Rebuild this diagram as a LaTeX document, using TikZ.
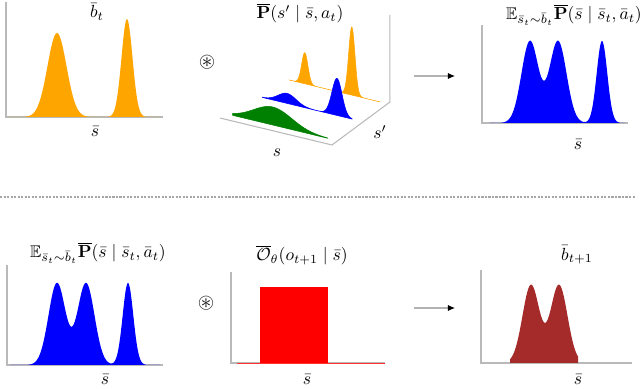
\documentclass[tikz,border=0pt]{standalone}
\usepackage{amsmath,amssymb}
\usetikzlibrary{arrows.meta}
\definecolor{mplorange}{HTML}{FFA500}
\definecolor{mplgreen}{HTML}{008000}
\definecolor{mplbrown}{HTML}{A52A2A}

\begin{document}
\begin{tikzpicture}[
  x=0.02cm, y=0.02cm,
  declare function={gauss(\u,\m,\s)=exp(-0.5*min(((\u-\m)/\s)^2,40));},
  axis/.style={draw=gray!55, line width=0.6pt},
  slice/.style={line width=0.3pt},
  ttl/.style={font=\fontsize{9.6}{11}\selectfont, inner sep=1pt},
  xlbl/.style={font=\fontsize{9.6}{11}\selectfont, inner sep=1pt},
  conv/.style={font=\large, inner sep=0pt},
  arr/.style={draw=gray!60, line width=0.6pt, -{Latex[length=4pt, width=3.5pt, color=black]}},
  sep/.style={draw=gray!70, line width=0.8pt, dash pattern=on 1.2pt off 0.8pt},
]
\useasboundingbox (0,0) rectangle (640,389);

% Top row: current belief
\draw[axis] (6,387) -- (6,272) -- (163,272);
\fill[mplorange] (8,272) -- plot[domain=8:160, samples=160]
  (\x, {272+84*gauss(\x,57,9.5)+98*gauss(\x,127,5.5)}) -- (160,272) -- cycle;
\node[ttl] (bt) at (97,377) {$\bar{b}_t$};
\node[xlbl] (sb1) at (95,257) {$\bar{s}$};

\node[conv] (op1) at (207,327) {$\circledast$};

% Top row: transition kernel (3D slices)
\begin{scope}[shift={(220,271)}, x={(2.24cm,-0.54cm)}, y={(1.16cm,0.86cm)}, z={(0cm,0.02cm)}]
  \draw[axis] (0,0,0) -- (1,0,0) -- (1,1,0) -- (1,1,87);
  \filldraw[slice, mplorange] (0.12,0.96,0) -- plot[domain=0.12:0.93, samples=140]
    (\x, 0.96, {31*gauss(\x,0.26,0.028)+68*gauss(\x,0.68,0.028)}) -- (0.93,0.96,0) -- cycle;
  \filldraw[slice, blue] (0.10,0.54,0) -- plot[domain=0.10:0.90, samples=140]
    (\x, 0.54, {10*gauss(\x,0.32,0.08)+37*gauss(\x,0.765,0.045)}) -- (0.90,0.54,0) -- cycle;
  \filldraw[slice, mplgreen] (0.06,0.10,0) -- plot[domain=0.06:0.91, samples=140]
    (\x, 0.10, {18*gauss(\x,0.42,0.17)}) -- (0.91,0.10,0) -- cycle;
\end{scope}
\node[ttl] (kern) at (300,376) {$\overline{\mathbf{P}}(s' \mid \bar{s}, a_t)$};
\node[xlbl] (sax) at (277,236) {$s$};
\node[xlbl] (spax) at (380,257) {$s'$};

\coordinate (a1s) at (414,313);
\coordinate (a1e) at (455,313);
\draw[arr] (a1s) -- (a1e);

% Top row: predicted belief
\draw[axis] (482,364) -- (482,266) -- (628,266);
\fill[blue] (490,266) -- plot[domain=490:625, samples=200]
  (\x, {266+82*gauss(\x,530,8.5)+82*gauss(\x,558,8.5)+82*gauss(\x,602,5.3)}) -- (625,266) -- cycle;
\node[ttl] (pred) at (574,374) {$\mathbb{E}_{\bar{s}_t\sim\bar{b}_t}\overline{\mathbf{P}}(\bar{s}\mid\bar{s}_t,\bar{a}_t)$};
\node[xlbl] (sb2) at (578,244) {$\bar{s}$};

% Separator
\draw[sep] (0,192) -- (636,192);

% Bottom row: predicted belief
\draw[axis] (7,124) -- (7,24) -- (163,24);
\fill[blue] (10,24) -- plot[domain=10:160, samples=200]
  (\x, {24+82*gauss(\x,57,8.5)+82*gauss(\x,86,8.5)+82*gauss(\x,128,5.3)}) -- (160,24) -- cycle;
\node[ttl] (pred2) at (98,136) {$\mathbb{E}_{\bar{s}_t\sim\bar{b}_t}\overline{\mathbf{P}}(\bar{s}\mid\bar{s}_t,\bar{a}_t)$};
\node[xlbl] (sb3) at (105,9) {$\bar{s}$};

\node[conv] (op2) at (206,86) {$\circledast$};

% Bottom row: observation model
\draw[axis] (231,117) -- (231,26) -- (385,26);
\draw[red!80, line width=0.5pt] (237,26) -- (385,26);
\fill[red] (260,26) rectangle (328,102);
\node[ttl] (obs) at (302,134) {$\overline{\mathcal{O}}_\theta(o_{t+1}\mid\bar{s})$};
\node[xlbl] (sb4) at (307,9) {$\bar{s}$};

\coordinate (a2s) at (414,81);
\coordinate (a2e) at (455,81);
\draw[arr] (a2s) -- (a2e);

% Bottom row: updated belief
\draw[axis] (481,119) -- (481,26) -- (632,26);
\fill[mplbrown] (510,26) -- plot[domain=510:578, samples=120]
  (\x, {26+78*gauss(\x,531,8.5)+78*gauss(\x,559,8.5)}) -- (578,26) -- cycle;
\node[ttl] (bnext) at (577,134) {$\bar{b}_{t+1}$};
\node[xlbl] (sb5) at (578,9) {$\bar{s}$};

\end{tikzpicture}
\end{document}
